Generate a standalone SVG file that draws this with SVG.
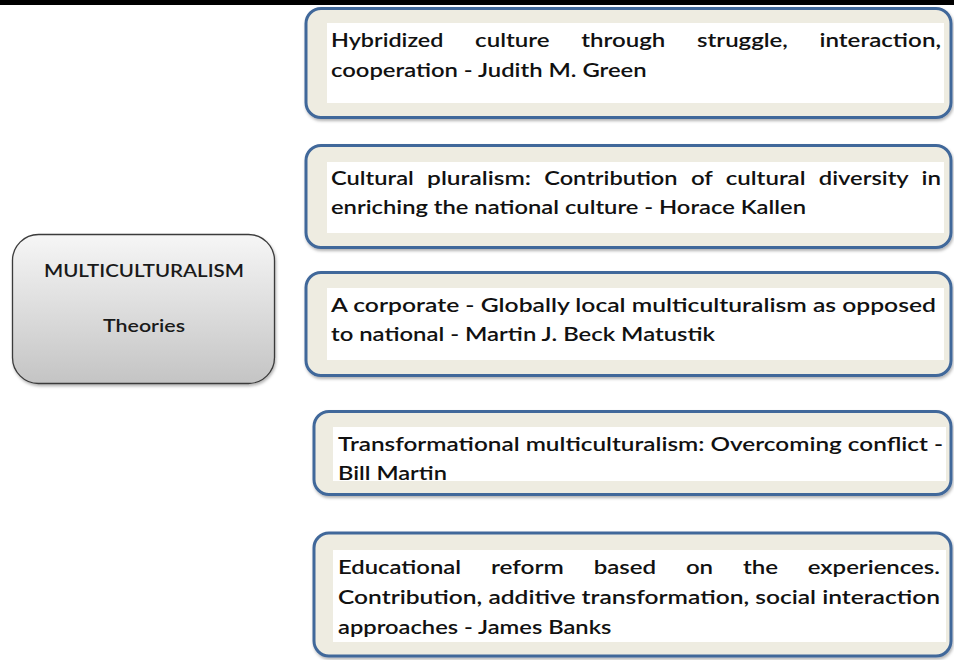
<svg xmlns="http://www.w3.org/2000/svg" width="954" height="660" viewBox="0 0 954 660">
<style>
.box{fill:#eeece1;stroke:#41679a;stroke-width:3;filter:url(#sh)}
.inner{fill:#ffffff}
.t{font-family:Lato,"Liberation Sans",sans-serif;font-size:20px;font-weight:600;fill:#111;}
.c{font-family:Lato,"Liberation Sans",sans-serif;font-size:18px;font-weight:600;fill:#1a1a1a;}
</style>
<defs>
<linearGradient id="g" x1="0" y1="0" x2="0" y2="1">
<stop offset="0" stop-color="#f6f6f6"/>
<stop offset="1" stop-color="#c4c4c4"/>
</linearGradient>
<filter id="sh" x="-5%" y="-10%" width="110%" height="130%">
<feDropShadow dx="1" dy="2" stdDeviation="1.5" flood-color="#000" flood-opacity="0.3"/>
</filter>
</defs>
<rect x="0" y="0" width="954" height="5" fill="#000"/>
<g id="center">
<rect x="12.5" y="234.5" width="262" height="149" rx="26" fill="url(#g)" stroke="#3a3a3a" stroke-width="1.3" filter="url(#sh)"/>
<text class="c" x="44" y="277" textLength="200" lengthAdjust="spacingAndGlyphs">MULTICULTURALISM</text>
<text class="c" x="103" y="332" textLength="82" lengthAdjust="spacingAndGlyphs">Theories</text>
</g>
<g id="connectors"></g>
<g id="n1">
<rect class="box" x="306" y="8.5" width="645" height="109" rx="15"/>
<rect class="inner" x="327" y="23" width="617" height="80"/>
<text class="t" y="47"><tspan x="331" textLength="112.4" lengthAdjust="spacingAndGlyphs">Hybridized</tspan> <tspan x="475.1" textLength="74.5" lengthAdjust="spacingAndGlyphs">culture</tspan> <tspan x="581.2" textLength="84.1" lengthAdjust="spacingAndGlyphs">through</tspan> <tspan x="697" textLength="90.9" lengthAdjust="spacingAndGlyphs">struggle,</tspan> <tspan x="819.5" textLength="121.5" lengthAdjust="spacingAndGlyphs">interaction,</tspan></text>
<text class="t" x="331" y="77" textLength="315.6" lengthAdjust="spacingAndGlyphs">cooperation - Judith M. Green</text>
</g>
<g id="n2">
<rect class="box" x="306" y="145.5" width="645" height="102" rx="15"/>
<rect class="inner" x="327" y="162" width="617" height="71"/>
<text class="t" y="185"><tspan x="331" textLength="82.8" lengthAdjust="spacingAndGlyphs">Cultural</tspan> <tspan x="427.1" textLength="103.9" lengthAdjust="spacingAndGlyphs">pluralism:</tspan> <tspan x="544.2" textLength="133.4" lengthAdjust="spacingAndGlyphs">Contribution</tspan> <tspan x="690.9" textLength="21.5" lengthAdjust="spacingAndGlyphs">of</tspan> <tspan x="725.7" textLength="79.9" lengthAdjust="spacingAndGlyphs">cultural</tspan> <tspan x="818.8" textLength="89.4" lengthAdjust="spacingAndGlyphs">diversity</tspan> <tspan x="921.5" textLength="19.5" lengthAdjust="spacingAndGlyphs">in</tspan></text>
<text class="t" x="331" y="214" textLength="475" lengthAdjust="spacingAndGlyphs">enriching the national culture - Horace Kallen</text>
</g>
<g id="n3">
<rect class="box" x="306" y="272.5" width="645" height="103" rx="15"/>
<rect class="inner" x="327" y="288" width="617" height="72"/>
<text class="t" x="331" y="312" textLength="605" lengthAdjust="spacingAndGlyphs">A corporate - Globally local multiculturalism as opposed</text>
<text class="t" x="331" y="341" textLength="384" lengthAdjust="spacingAndGlyphs">to national - Martin J. Beck Matustik</text>
</g>
<g id="n4">
<rect class="box" x="314" y="411.5" width="637" height="83" rx="15"/>
<rect class="inner" x="333" y="427" width="613" height="54"/>
<text class="t" x="338" y="451" textLength="605" lengthAdjust="spacingAndGlyphs">Transformational multiculturalism: Overcoming conflict -</text>
<text class="t" x="338" y="480" textLength="109" lengthAdjust="spacingAndGlyphs">Bill Martin</text>
</g>
<g id="n5">
<rect class="box" x="314" y="533" width="637" height="123" rx="15"/>
<rect class="inner" x="333" y="550" width="613" height="92"/>
<text class="t" y="574"><tspan x="338" textLength="123.1" lengthAdjust="spacingAndGlyphs">Educational</tspan> <tspan x="490.9" textLength="73" lengthAdjust="spacingAndGlyphs">reform</tspan> <tspan x="593.7" textLength="62.5" lengthAdjust="spacingAndGlyphs">based</tspan> <tspan x="685.9" textLength="27.2" lengthAdjust="spacingAndGlyphs">on</tspan> <tspan x="742.9" textLength="35.1" lengthAdjust="spacingAndGlyphs">the</tspan> <tspan x="807.8" textLength="132.2" lengthAdjust="spacingAndGlyphs">experiences.</tspan></text>
<text class="t" x="338" y="604" textLength="602" lengthAdjust="spacingAndGlyphs">Contribution, additive transformation, social interaction</text>
<text class="t" x="338" y="634" textLength="273.4" lengthAdjust="spacingAndGlyphs">approaches - James Banks</text>
</g>
</svg>
